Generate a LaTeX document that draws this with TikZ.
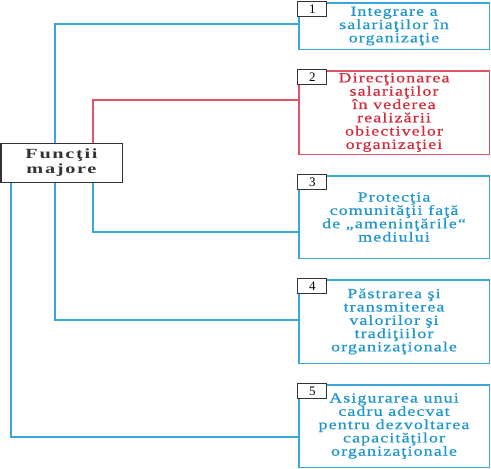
\documentclass[tikz,border=0pt]{standalone}
\usepackage{fontspec}
\newfontfamily\boxfont[FakeStretch=1.28,LetterSpace=8,FakeBold=0.6]{Liberation Serif}
\newfontfamily\mainfont[FakeStretch=1.45,LetterSpace=12]{Liberation Serif}
\usetikzlibrary{positioning}
\definecolor{bltext}{HTML}{1E96CD}
\definecolor{blline}{HTML}{3AA6DA}
\definecolor{rdtext}{HTML}{D42A3A}
\definecolor{rdline}{HTML}{E05565}
\definecolor{dgray}{HTML}{333333}
\tikzset{
  fbox/.style={draw, line width=1.5pt, rectangle, minimum width=190.5pt, align=center,
    inner sep=0pt, font=\boxfont\fontsize{14}{13.3}\selectfont},
  bluebox/.style={fbox, draw=blline, text=bltext},
  redbox/.style={fbox, draw=rdline, text=rdtext},
  numbox/.style={draw=dgray, fill=white, line width=1pt, minimum width=29pt, minimum height=15pt,
    inner sep=0pt, anchor=north west, font=\fontspec{Liberation Serif}\fontsize{13}{13}\selectfont},
  mainbox/.style={draw=dgray, line width=1.5pt, minimum width=121.5pt, minimum height=39pt,
    align=center, inner sep=0pt, text=dgray, font=\mainfont\bfseries\fontsize{14}{15}\selectfont},
  bconn/.style={draw=blline, line width=1.2pt},
  rconn/.style={draw=rdline, line width=1.2pt}
}
\begin{document}
\begin{tikzpicture}[x=1pt,y=-1pt]
\useasboundingbox (0,0) rectangle (491,469);
\node[mainbox] (f) at (61.5,163) {Funcţii\\majore};
\node[bluebox, minimum height=46.5pt] (b1) at (394,26) {Integrare a\\salariaţilor în\\organizaţie};
\node[redbox, minimum height=83.5pt] (b2) at (394,112.5) {Direcţionarea\\salariaţilor\\în vederea\\realizării\\obiectivelor\\organizaţiei};
\node[bluebox, minimum height=82.5pt] (b3) at (394,217) {Protecţia\\comunităţii faţă\\de „ameninţările“\\mediului};
\node[bluebox, minimum height=83.5pt] (b4) at (394,321.5) {Păstrarea şi\\transmiterea\\valorilor şi\\tradiţiilor\\organizaţionale};
\node[bluebox, minimum height=82.5pt] (b5) at (394,426) {Asigurarea unui\\cadru adecvat\\pentru dezvoltarea\\capacităţilor\\organizaţionale};
\foreach \b/\n in {b1/1,b2/2,b3/3,b4/4,b5/5}{
  \node[numbox] (n\n) at ([xshift=-0.75pt,yshift=0.75pt]\b.north west) {\n};
}
\coordinate (j1) at (55,24);
\coordinate (j2) at (93,100);
\coordinate (j3) at (93,232);
\coordinate (j4) at (55,320);
\coordinate (j5) at (11,437);
\draw[bconn] (b1.west |- j1) -| (j1 |- f.north);
\draw[rconn] (b2.west |- j2) -| (j2 |- f.north);
\draw[bconn] (j3 |- f.south) |- (b3.west |- j3);
\draw[bconn] (j4 |- f.south) |- (b4.west |- j4);
\draw[bconn] (j5 |- f.south) |- (b5.west |- j5);
\end{tikzpicture}
\end{document}
